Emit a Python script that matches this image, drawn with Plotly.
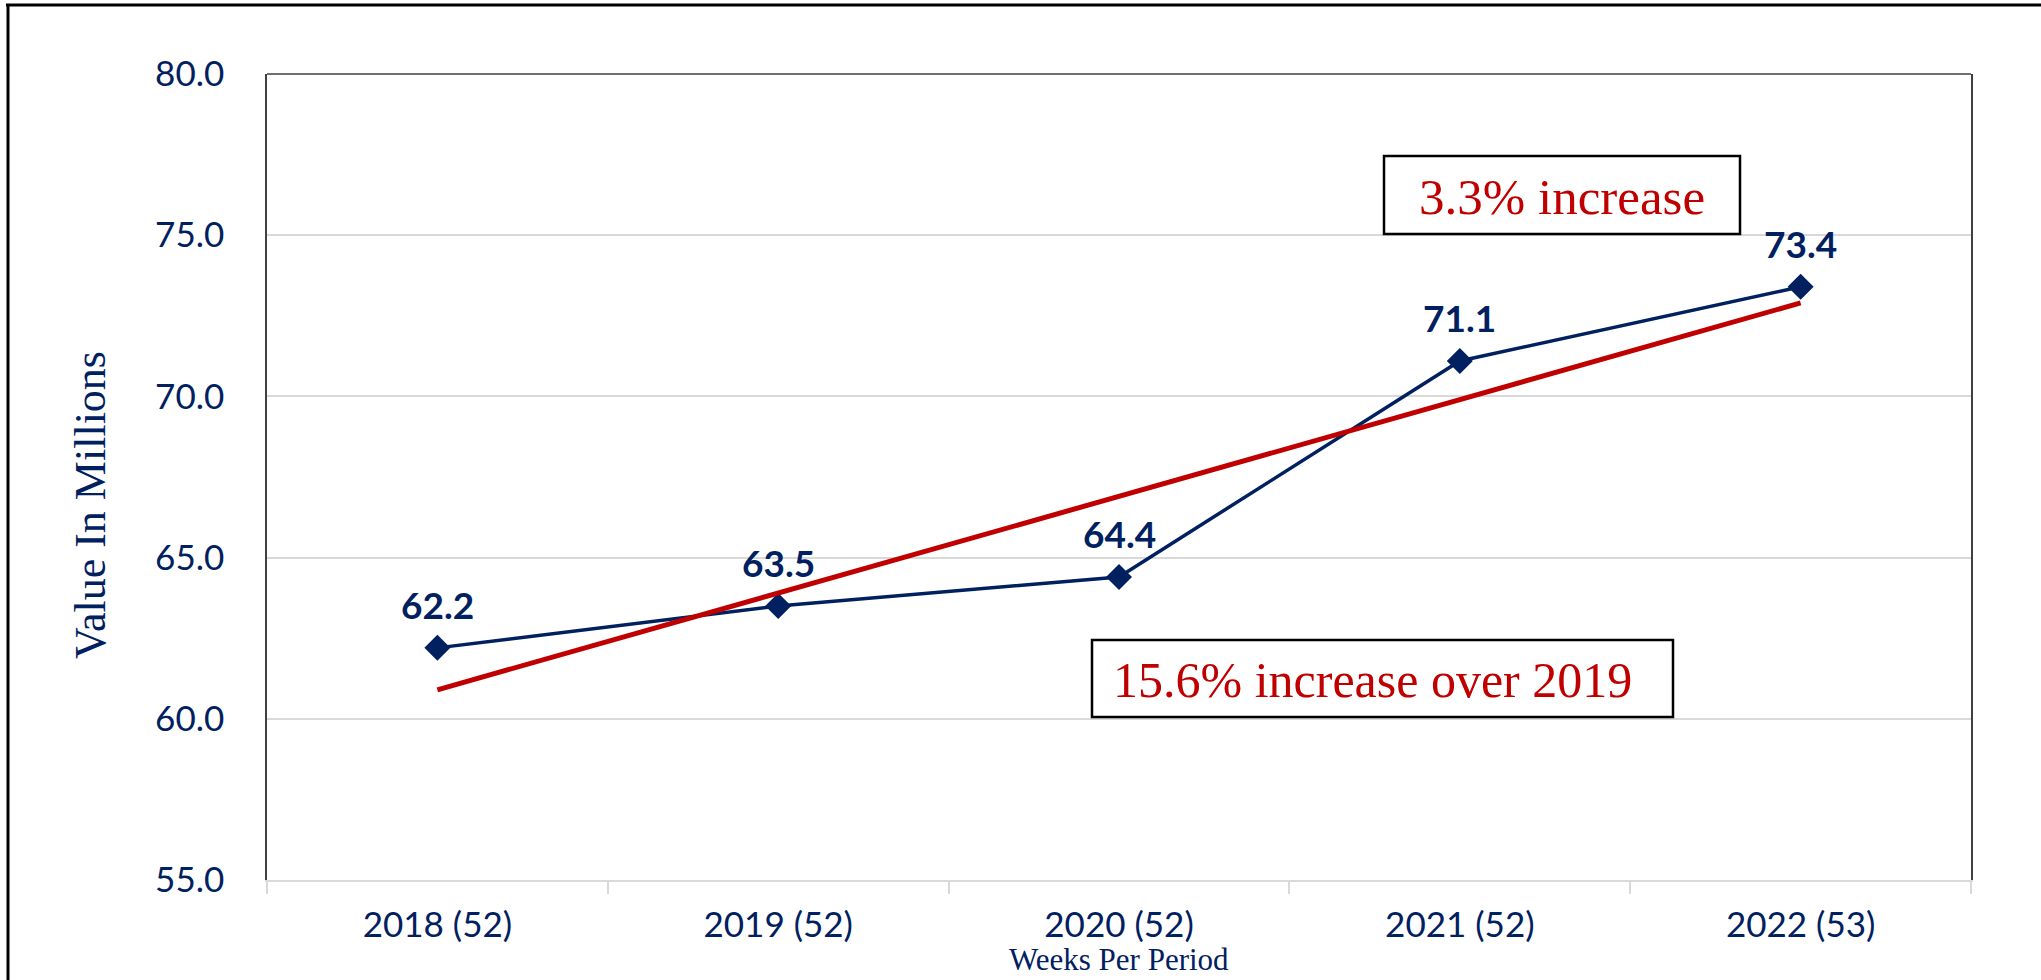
import plotly.graph_objects as go

# ---- data ----
categories = ["2018 (52)", "2019 (52)", "2020 (52)", "2021 (52)", "2022 (53)"]
values = [62.2, 63.5, 64.4, 71.1, 73.4]
trend_values = [60.9, 63.9, 66.9, 69.9, 72.9]
y_ticks = [55.0, 60.0, 65.0, 70.0, 75.0, 80.0]
note_top = "3.3% increase"
note_bottom = "15.6% increase over 2019"
y_title = "Value In Millions"
x_title = "Weeks Per Period"

# ---- layout constants ----
W, H = 2041, 980
L, R, T, B = 267, 70, 74, 100
PW, PH = W - L - R, H - T - B
NAVY = "#002060"
RED = "#C00000"
GRID = "#D9D9D9"


def px(x):
    return (x - L) / PW


def py(y):
    return (H - B - y) / PH


fig = go.Figure()

fig.add_trace(go.Scatter(
    x=categories, y=values, mode="lines+markers",
    line=dict(color=NAVY, width=3.5),
    marker=dict(symbol="diamond", size=20, color=NAVY),
    showlegend=False, hoverinfo="skip",
))
fig.add_trace(go.Scatter(
    x=categories, y=trend_values, mode="lines",
    line=dict(color=RED, width=5),
    showlegend=False, hoverinfo="skip",
))

annotations = []
for c, v in zip(categories, values):
    annotations.append(dict(
        x=c, y=v, xref="x", yref="y", text=f"{v:.1f}", showarrow=False,
        yshift=43, font=dict(family="Lato", size=37, color=NAVY, weight="bold"),
    ))

annotations.append(dict(
    xref="paper", yref="paper", x=px(90), y=py(505), text=y_title,
    textangle=-90, showarrow=False, xanchor="center", yanchor="middle",
    font=dict(family="Liberation Serif", size=44, color=NAVY),
))
annotations.append(dict(
    xref="paper", yref="paper", x=px(1119), y=py(959), text=x_title,
    showarrow=False, xanchor="center", yanchor="middle",
    font=dict(family="Liberation Serif", size=31, color=NAVY),
))
annotations.append(dict(
    xref="paper", yref="paper", x=px(1562), y=py(197), text=note_top,
    showarrow=False, xanchor="center", yanchor="middle",
    font=dict(family="Liberation Serif", size=51, color=RED),
))
annotations.append(dict(
    xref="paper", yref="paper", x=px(1111), y=py(680), text=note_bottom,
    showarrow=False, xanchor="left", yanchor="middle",
    font=dict(family="Liberation Serif", size=50, color=RED),
))

shapes = [
    # outer frame (top and left edges)
    dict(type="line", xref="paper", yref="paper", x0=px(6), x1=px(W + 5),
         y0=py(5), y1=py(5), line=dict(color="black", width=3)),
    dict(type="line", xref="paper", yref="paper", x0=px(8), x1=px(8),
         y0=py(4), y1=py(H + 5), line=dict(color="black", width=3)),
    # top edge of plot area
    dict(type="line", xref="paper", yref="paper", x0=0, x1=1, y0=1, y1=1,
         line=dict(color="#404040", width=1.5)),
    # note boxes
    dict(type="rect", xref="paper", yref="paper", x0=px(1384), x1=px(1740),
         y0=py(234), y1=py(156), line=dict(color="black", width=2.5),
         fillcolor="white", layer="above"),
    dict(type="rect", xref="paper", yref="paper", x0=px(1092), x1=px(1673),
         y0=py(717), y1=py(640), line=dict(color="black", width=2.5),
         fillcolor="white", layer="above"),
]

fig.update_layout(
    width=W, height=H,
    margin=dict(l=L, r=R, t=T, b=B),
    paper_bgcolor="white", plot_bgcolor="white",
    annotations=annotations, shapes=shapes,
    showlegend=False,
)
fig.update_xaxes(
    type="category", range=[-0.5, 4.5], tickson="boundaries",
    ticks="outside", ticklen=12, tickcolor=GRID, tickwidth=1.5,
    showline=True, linecolor=GRID, linewidth=1.5, showgrid=False,
    tickfont=dict(family="Lato", size=35, color=NAVY), ticklabelstandoff=13,
)
fig.update_yaxes(
    range=[55, 80], tickvals=y_ticks, tickformat=".1f",
    ticks="outside", ticklen=34, tickcolor="rgba(0,0,0,0)",
    showline=True, mirror=True, linecolor="#404040", linewidth=1.5,
    showgrid=True, gridcolor=GRID, gridwidth=1.5, zeroline=False,
    tickfont=dict(family="Lato", size=35, color=NAVY),
)

fig.write_html(
    "out.html",
    config={"displayModeBar": False},
    post_script="document.body.style.margin='0';document.body.style.overflow='hidden';",
)
